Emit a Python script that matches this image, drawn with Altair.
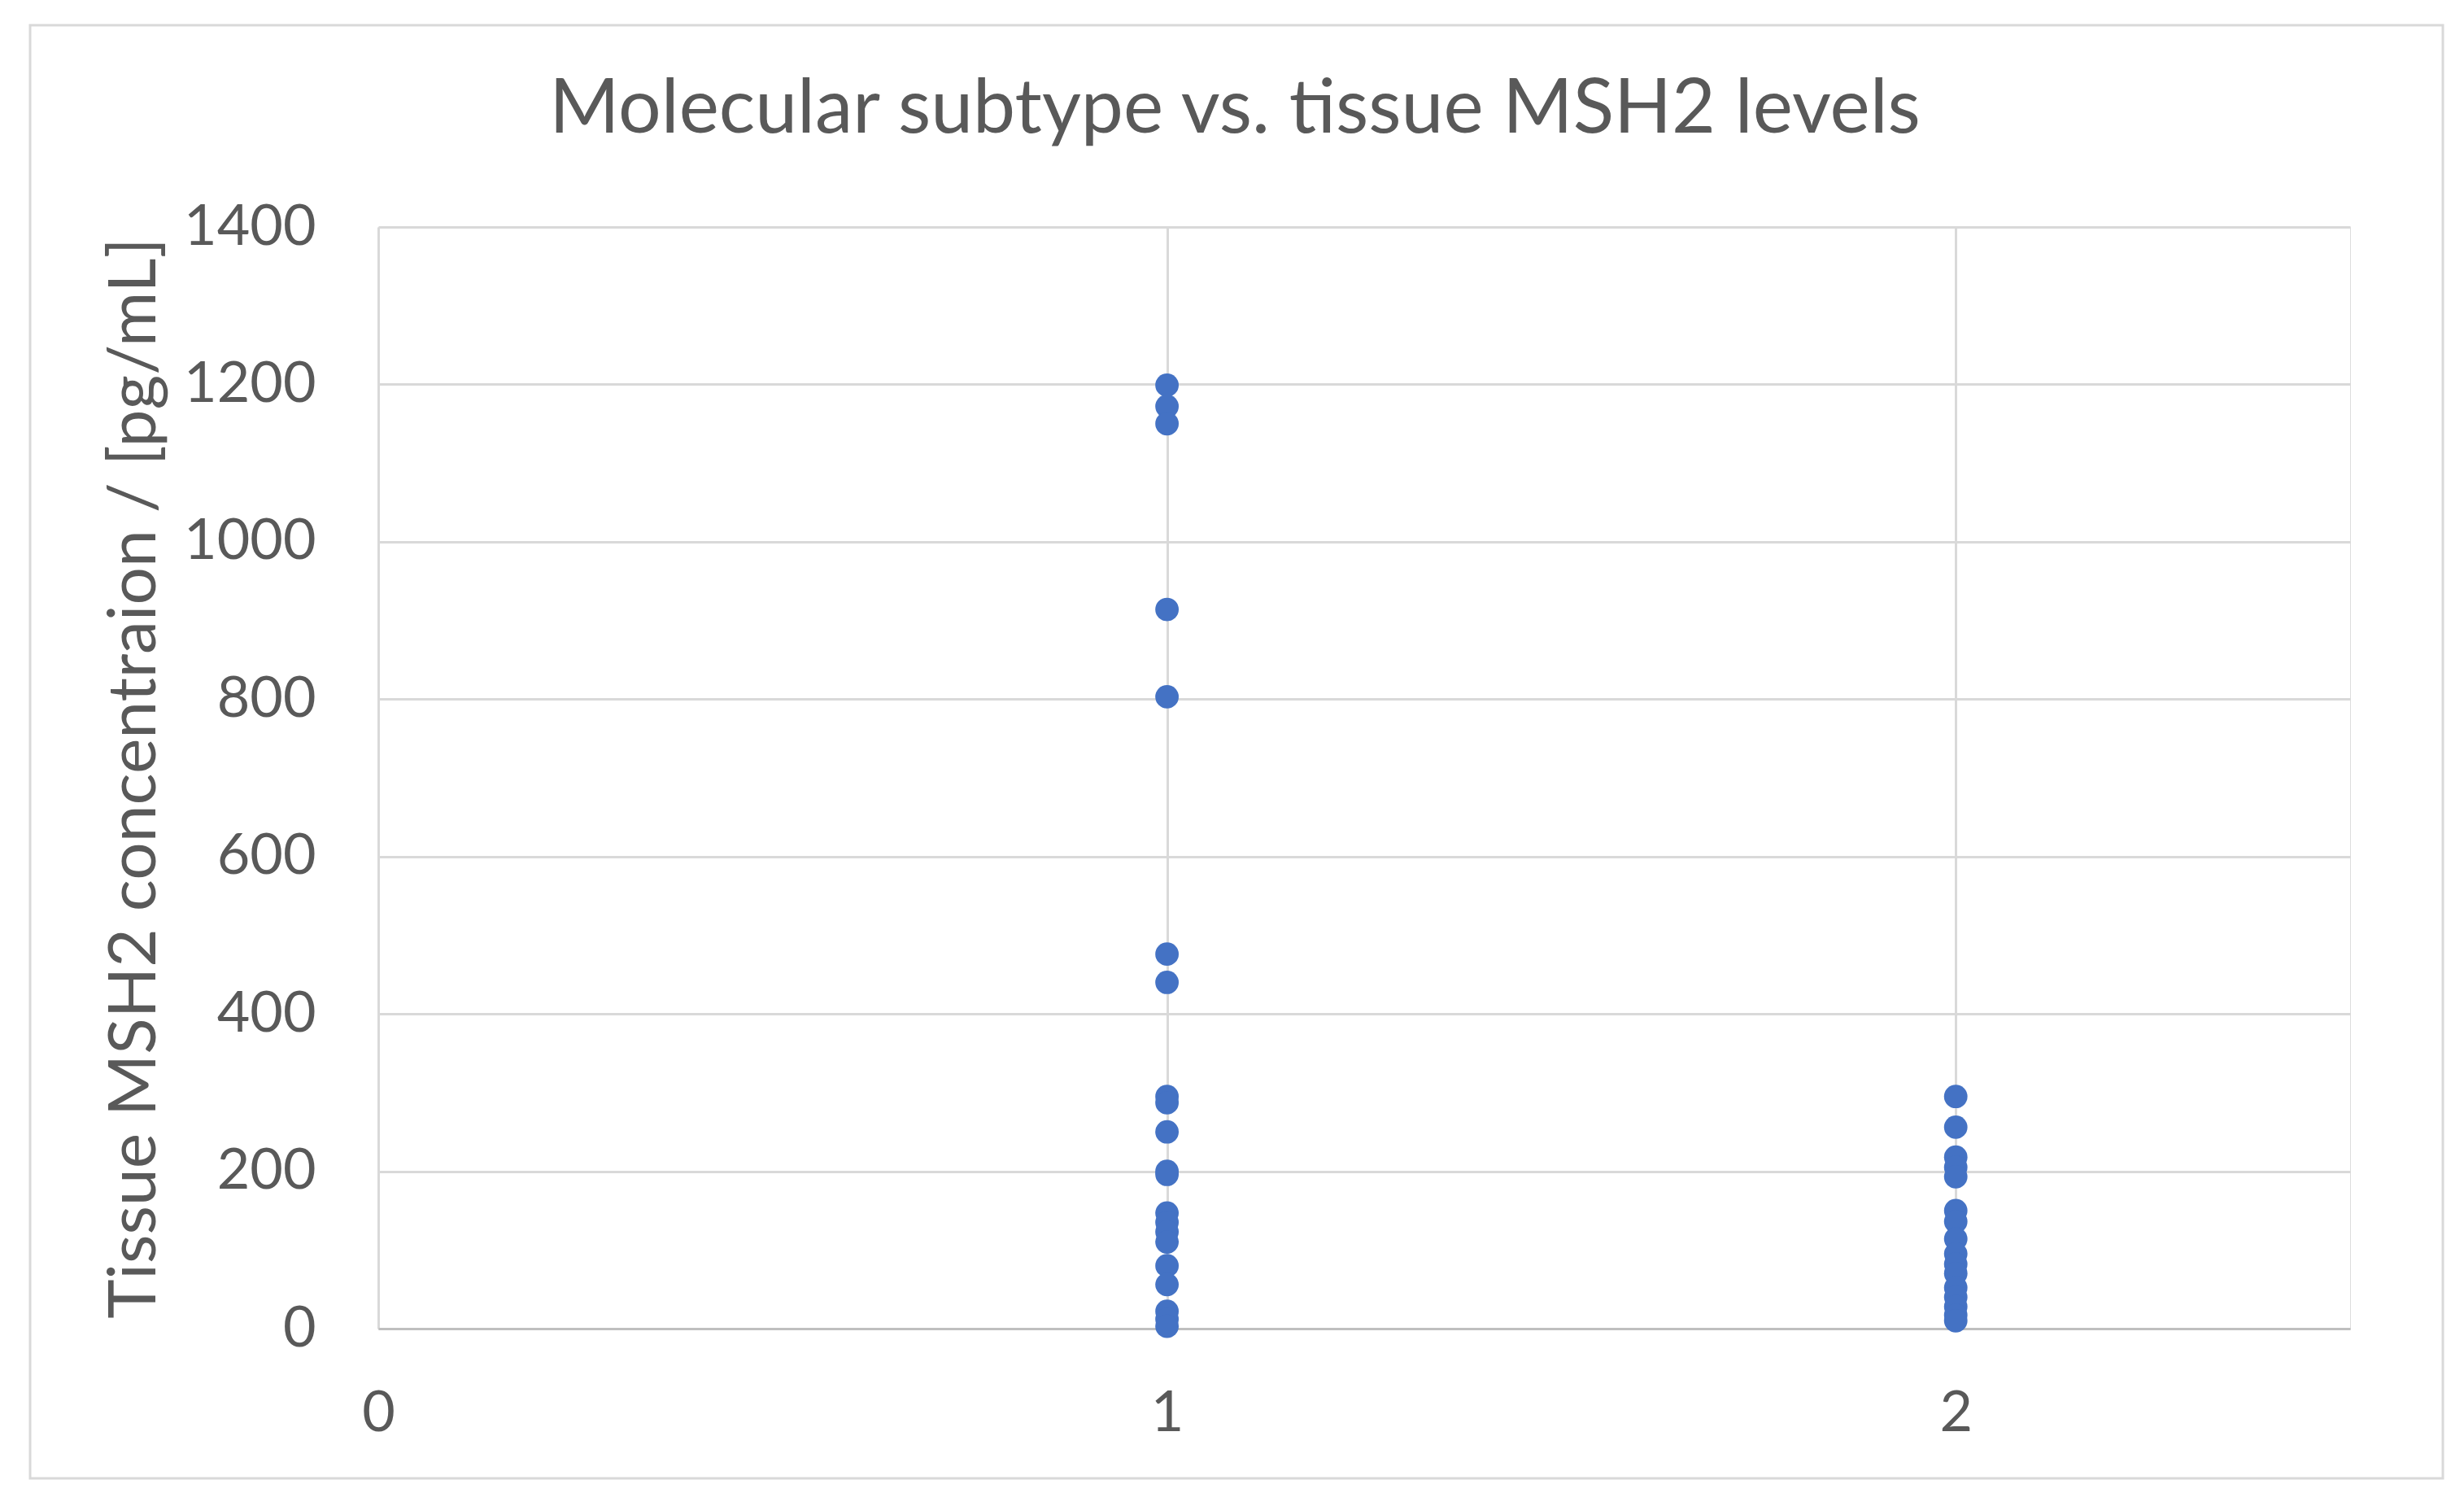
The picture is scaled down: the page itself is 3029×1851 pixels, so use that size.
import altair as alt
import pandas as pd

# Data
subtype1_values = [1199, 1172, 1150, 914, 803, 476, 440, 295, 287, 250, 200, 196,
                   147, 135, 123, 110, 80, 56, 22, 12, 3]
subtype2_values = [295, 256, 218, 205, 193, 150, 136, 114, 95, 82, 70, 52, 40, 28, 17, 10]
x_ticks = [0, 1, 2]
y_ticks = [0, 200, 400, 600, 800, 1000, 1200, 1400]

rows = [{"subtype": 1, "msh2": v} for v in subtype1_values] + \
       [{"subtype": 2, "msh2": v} for v in subtype2_values]
df = pd.DataFrame(rows)

FONT = "Lato"
TXT = "#595959"
GRID = "#D9D9D9"

points = alt.Chart(df).mark_circle(size=830, color="#4472C4", opacity=1).encode(
    x=alt.X("subtype:Q",
            scale=alt.Scale(domain=[0, 2.5], nice=False, zero=False),
            axis=alt.Axis(values=x_ticks, title=None, grid=True, gridColor=GRID, gridWidth=3,
                          domain=True, domainColor="#BFBFBF", domainWidth=3,
                          ticks=False, labelPadding=70, labelFontSize=70, labelFlush=False,
                          labelColor=TXT, labelFont=FONT, format="d")),
    y=alt.Y("msh2:Q",
            scale=alt.Scale(domain=[0, 1400], nice=False),
            axis=alt.Axis(values=y_ticks, title="Tissue MSH2 concentraion / [pg/mL]",
                          grid=True, gridColor=GRID, gridWidth=3, domain=False, ticks=False,
                          labelPadding=77, labelFontSize=70, labelColor=TXT, labelFont=FONT,
                          format="d",
                          titleFont=FONT, titleFontSize=82, titleColor=TXT,
                          titleFontWeight="normal", titleX=-300, titleY=677,
                          titleAngle=270, titleBaseline="middle", titleAlign="center")),
)

border_df = pd.DataFrame([{"k": 1}])
border = alt.Chart(border_df).mark_rect(fill="transparent", stroke=GRID, strokeWidth=3).encode(
    x=alt.value(-428), x2=alt.value(2538), y=alt.value(-248), y2=alt.value(1538)
)

chart = alt.layer(border, points).properties(
    width=2424,
    height=1354,
    autosize=alt.AutoSizeParams(type="none"),
    padding={"left": 457, "top": 271, "right": 132, "bottom": 210},
    title=alt.TitleParams("Molecular subtype vs. tissue MSH2 levels", font=FONT, fontSize=93,
                          fontWeight="normal", color=TXT, anchor="middle", frame="group",
                          dx=-159, offset=-153),
).configure_view(stroke=None).configure(background="white")

chart.save("out.html", embed_options={"renderer": "svg", "actions": False})
